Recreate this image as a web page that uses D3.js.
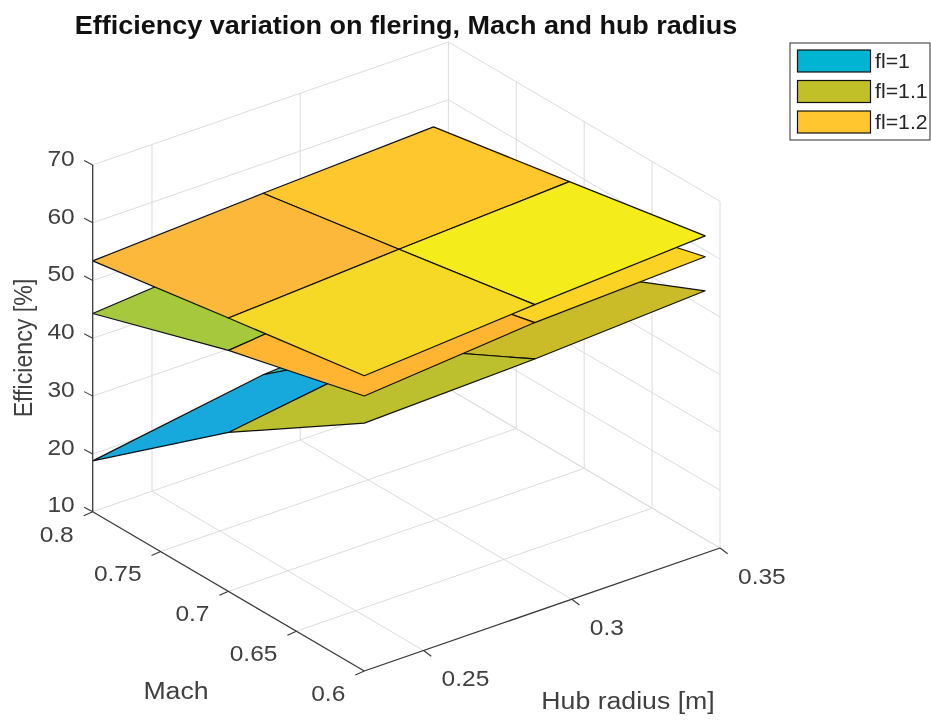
<!DOCTYPE html>
<html>
<head>
<meta charset="utf-8">
<script src="https://d3js.org/d3.v7.min.js"></script>
<style>
  html, body { margin: 0; padding: 0; background: #fff; }
  svg { display: block; filter: blur(0.4px); }
  text { font-family: "Liberation Sans", Arial, sans-serif; }
</style>
</head>
<body>
<script>
// grid the surfaces were sampled on
const machValues = [0.8, 0.7, 0.6];
const hubValues = [0.23, 0.2875, 0.345];

// efficiency [%], one row per mach value, one column per hub radius
const effFl1 = [[18.8, 23.5, 25.5], [37.5, 41.8, 44.9], [52.9, 53.8, 55.4]];
const effFl11 = [[44.3, 46.7, 48.0], [51.7, 54.6, 55.1], [57.6, 60.1, 61.3]];
const effFl12 = [[53.4, 54.9, 56.2], [57.3, 59.0, 60.5], [61.1, 63.2, 64.9]];

const legendLabels = ["fl=1", "fl=1.1", "fl=1.2"];
const legendColors = ["#00b4d2", "#c2c028", "#ffc62f"];

// face colours, same layout as the surfaces but one row/column less
const facesFl1 = [["#17a9dc", "#2dbbb5"], ["#bcc02e", "#c9bc28"]];
const facesFl11 = [["#a6c83c", "#d5c030"], ["#ffb432", "#fad324"]];
const facesFl12 = [["#fbb83a", "#fec72e"], ["#f6d827", "#f5ec1c"]];

const machTicks = [0.8, 0.75, 0.7, 0.65, 0.6];
const hubTicks = [0.25, 0.3, 0.35];
const effTicks = [10, 20, 30, 40, 50, 60, 70];

const width = 931, height = 720;
// the reference looks stretched sideways a bit, so the text is too
const stretch = 1.08;

const svg = d3.select("body").append("svg")
    .attr("width", width)
    .attr("height", height);

// 3d axes end up as sums of 2d offsets, the view is orthographic
const machX = d3.scaleLinear().domain([0.8, 0.6]).range([92.7, 364.3]);
const machY = d3.scaleLinear().domain([0.8, 0.6]).range([511.7, 671]);
const hubX = d3.scaleLinear().domain([0.23, 0.35]).range([0, 355.7]);
const hubY = d3.scaleLinear().domain([0.23, 0.35]).range([0, -123]);
const effY = d3.scaleLinear().domain([10, 70]).range([0, -346.7]);

function project(hub, mach, eff) {
  return [machX(mach) + hubX(hub), machY(mach) + hubY(hub) + effY(eff)];
}

function drawLine(g, a, b, color, w) {
  g.append("line")
      .attr("x1", a[0]).attr("y1", a[1])
      .attr("x2", b[0]).attr("y2", b[1])
      .attr("stroke", color)
      .attr("stroke-width", w);
}

function drawText(g, x, y, str, size, anchor, color) {
  return g.append("text")
      .attr("transform", "translate(" + x + "," + y + ") scale(" + stretch + ",1)")
      .attr("dy", "0.35em")
      .attr("text-anchor", anchor)
      .attr("font-size", size)
      .attr("fill", color)
      .text(str);
}

// back walls and floor
const grid = svg.append("g");
const gridColor = "#dcdcdc";
const hubMin = hubX.domain()[0], hubMax = hubX.domain()[1];

machTicks.slice(1).forEach(function(m) {
  drawLine(grid, project(hubMin, m, 10), project(hubMax, m, 10), gridColor, 1);
  drawLine(grid, project(hubMax, m, 10), project(hubMax, m, 70), gridColor, 1);
});
hubTicks.forEach(function(h) {
  drawLine(grid, project(h, 0.8, 10), project(h, 0.6, 10), gridColor, 1);
  drawLine(grid, project(h, 0.8, 10), project(h, 0.8, 70), gridColor, 1);
});
effTicks.forEach(function(e) {
  drawLine(grid, project(hubMin, 0.8, e), project(hubMax, 0.8, e), gridColor, 1);
  drawLine(grid, project(hubMax, 0.8, e), project(hubMax, 0.6, e), gridColor, 1);
});

// surfaces, lowest first and back to front inside each one
const surfaces = [
  {eff: effFl1, faces: facesFl1},
  {eff: effFl11, faces: facesFl11},
  {eff: effFl12, faces: facesFl12}
];

surfaces.forEach(function(s) {
  let quads = [];
  for (let i = 0; i < machValues.length - 1; i += 1) {
    for (let j = hubValues.length - 2; j >= 0; j -= 1) {
      quads.push({
        color: s.faces[i][j],
        pts: [
          project(hubValues[j], machValues[i], s.eff[i][j]),
          project(hubValues[j + 1], machValues[i], s.eff[i][j + 1]),
          project(hubValues[j + 1], machValues[i + 1], s.eff[i + 1][j + 1]),
          project(hubValues[j], machValues[i + 1], s.eff[i + 1][j])
        ]
      });
    }
  }
  svg.append("g").selectAll("polygon")
      .data(quads)
      .enter()
      .append("polygon")
      .attr("points", function(d) { return d.pts.join(" "); })
      .attr("fill", function(d) { return d.color; })
      .attr("stroke", "#111")
      .attr("stroke-width", 1.2)
      .attr("stroke-linejoin", "round");
});

// axes
const axes = svg.append("g");
const axisColor = "#3a3a3a";
const labelColor = "#404040";
const tickSize = 22.7, labelSize = 24.7;

drawLine(axes, project(hubMin, 0.8, 10), project(hubMin, 0.8, 70), axisColor, 1.3);
drawLine(axes, project(hubMin, 0.8, 10), project(hubMin, 0.6, 10), axisColor, 1.3);
drawLine(axes, project(hubMin, 0.6, 10), project(hubMax, 0.6, 10), axisColor, 1.3);

effTicks.forEach(function(e) {
  let p = project(hubMin, 0.8, e);
  drawLine(axes, p, [p[0] - 8.5, p[1] - 4.5], axisColor, 1.1);
  drawText(axes, p[0] - 18, p[1] - 7.2, e, tickSize, "end", labelColor);
});

machTicks.forEach(function(m) {
  let p = project(hubMin, m, 10);
  drawLine(axes, p, [p[0] - 9, p[1] + 4], axisColor, 1.1);
  drawText(axes, p[0] - 19, p[1] + 22, m, tickSize, "end", labelColor);
});

hubTicks.forEach(function(h) {
  let p = project(h, 0.6, 10);
  drawLine(axes, p, [p[0] + 7.7, p[1] + 5.7], axisColor, 1.1);
  drawText(axes, p[0] + 18, p[1] + 28, h, tickSize, "start", labelColor);
});

drawText(svg, 406, 25, "Efficiency variation on flering, Mach and hub radius", 25, "middle", "#111")
    .attr("font-weight", "bold");

// rotated, so here the stretch goes across the glyphs
svg.append("text")
    .attr("transform", "translate(23,348) scale(" + stretch + ",1) rotate(-90)")
    .attr("dy", "0.35em")
    .attr("text-anchor", "middle")
    .attr("font-size", 23.2)
    .attr("fill", labelColor)
    .text("Efficiency [%]");

drawText(svg, 176, 690, "Mach", labelSize, "middle", labelColor);
drawText(svg, 628, 700, "Hub radius [m]", labelSize, "middle", labelColor);

// legend
const legend = svg.append("g");
legend.append("rect")
    .attr("x", 790).attr("y", 43)
    .attr("width", 140).attr("height", 97)
    .attr("fill", "#fff")
    .attr("stroke", "#404040")
    .attr("stroke-width", 1.1);

const legendY = d3.scalePoint().domain(legendLabels).range([61, 122]);

legendLabels.forEach(function(label, i) {
  legend.append("rect")
      .attr("x", 797.5)
      .attr("y", legendY(label) - 11)
      .attr("width", 73)
      .attr("height", 22)
      .attr("fill", legendColors[i])
      .attr("stroke", "#111")
      .attr("stroke-width", 1.2);
  drawText(legend, 875, legendY(label), label, 19.7, "start", "#262626");
});
</script>
</body>
</html>
